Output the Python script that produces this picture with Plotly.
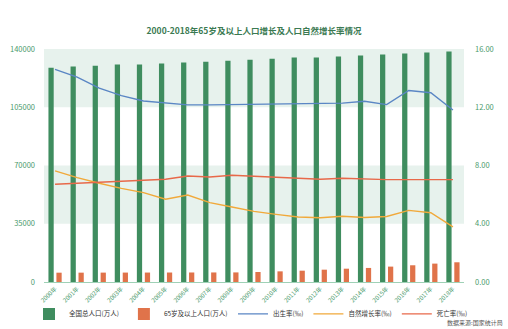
import plotly.graph_objects as go

years = [f"{y}年" for y in range(2000, 2019)]
total_pop = [128700, 129500, 129900, 130700, 130700, 131300, 131900, 132300, 132900, 133500,
             134100, 134900, 134900, 135500, 136100, 136700, 137300, 137900, 138500]
elderly_pop = [5600, 5620, 5640, 5660, 5680, 5700, 5720, 5740, 5760, 6000,
               6400, 6800, 7400, 8000, 8450, 9250, 10050, 11050, 11850]
birth_rate = [14.6, 14.07, 13.31, 12.8, 12.43, 12.3, 12.16, 12.16, 12.18, 12.21,
              12.23, 12.25, 12.25, 12.28, 12.41, 12.18, 13.15, 13.0, 11.81]
natural_growth = [7.63, 7.17, 6.78, 6.43, 6.14, 5.68, 5.97, 5.45, 5.15, 4.85,
                  4.64, 4.46, 4.41, 4.52, 4.43, 4.5, 4.92, 4.76, 3.79]
death_rate = [6.71, 6.78, 6.85, 6.92, 6.99, 7.06, 7.28, 7.21, 7.33, 7.28,
              7.19, 7.12, 7.06, 7.12, 7.06, 7.03, 7.03, 7.03, 7.03]
left_ticks = [0, 35000, 70000, 105000, 140000]
right_ticks = [0, 4, 8, 12, 16]

FONT = "Noto Sans CJK SC"
GREEN_TXT = "#4a9a6c"

fig = go.Figure()
fig.add_trace(go.Bar(x=years, y=total_pop, name="全国总人口(万人)", marker_color="#3f8d5f",
                     marker_line_width=0, legend="legend"))
fig.add_trace(go.Bar(x=years, y=elderly_pop, name="65岁及以上人口(万人)", marker_color="#e0734a",
                     marker_line_width=0, legend="legend"))
fig.add_trace(go.Scatter(x=years, y=birth_rate, name="出生率(‰)", yaxis="y2", mode="lines",
                         line=dict(color="#5a86c4", width=1.4), legend="legend2"))
fig.add_trace(go.Scatter(x=years, y=natural_growth, name="自然增长率(‰)", yaxis="y2", mode="lines",
                         line=dict(color="#f1a93a", width=1.4), legend="legend2"))
fig.add_trace(go.Scatter(x=years, y=death_rate, name="死亡率(‰)", yaxis="y2", mode="lines",
                         line=dict(color="#e8694a", width=1.4), legend="legend2"))

band_color = "#e7f2ed"
for lo, hi in [(left_ticks[3], left_ticks[4]), (left_ticks[1], left_ticks[2])]:
    fig.add_shape(type="rect", xref="paper", yref="y", x0=0, x1=1, y0=lo, y1=hi,
                  fillcolor=band_color, line_width=0, layer="below")

legend_font = dict(size=6.5, color="#333333", family=FONT)
fig.update_layout(
    width=508, height=329,
    margin=dict(l=44, r=44, t=49, b=47, autoexpand=False),
    paper_bgcolor="white", plot_bgcolor="white",
    font=dict(family=FONT, color=GREEN_TXT),
    barmode="group", bargap=0.28, bargroupgap=0.34,
    title=dict(text="<b>2000-2018年65岁及以上人口增长及人口自然增长率情况</b>",
               x=0.5, xanchor="center", y=1 - 31 / 329, yanchor="middle",
               font=dict(size=8.5, color="#3b7a52", family=FONT)),
    xaxis=dict(tickangle=-45, tickfont=dict(size=6, color=GREEN_TXT), showgrid=False,
               showline=True, linecolor="#9fd1b6", linewidth=1, ticks="", zeroline=False),
    yaxis=dict(range=[0, 140000], tickvals=left_ticks, tickformat="d",
               tickfont=dict(size=7.5, color=GREEN_TXT),
               showgrid=False, zeroline=False, showline=False, ticklabelstandoff=8),
    yaxis2=dict(range=[0, 16], tickvals=right_ticks, tickformat=".2f", overlaying="y", side="right",
                tickfont=dict(size=7.5, color=GREEN_TXT), showgrid=False, zeroline=False,
                ticklabelstandoff=10),
    legend=dict(orientation="h", x=0.45, xanchor="right", y=-0.137, yanchor="middle",
                font=legend_font, bgcolor="rgba(0,0,0,0)", tracegroupgap=0),
    legend2=dict(orientation="h", x=0.45, xanchor="left", y=-0.137, yanchor="middle",
                 font=legend_font, bgcolor="rgba(0,0,0,0)", tracegroupgap=0),
    annotations=[dict(text="数据来源:国家统计局", xref="paper", yref="paper", x=1.098, y=-0.172,
                      xanchor="right", yanchor="middle", showarrow=False,
                      font=dict(size=6, color="#555555", family=FONT))],
)

fig.write_html("out.html")
